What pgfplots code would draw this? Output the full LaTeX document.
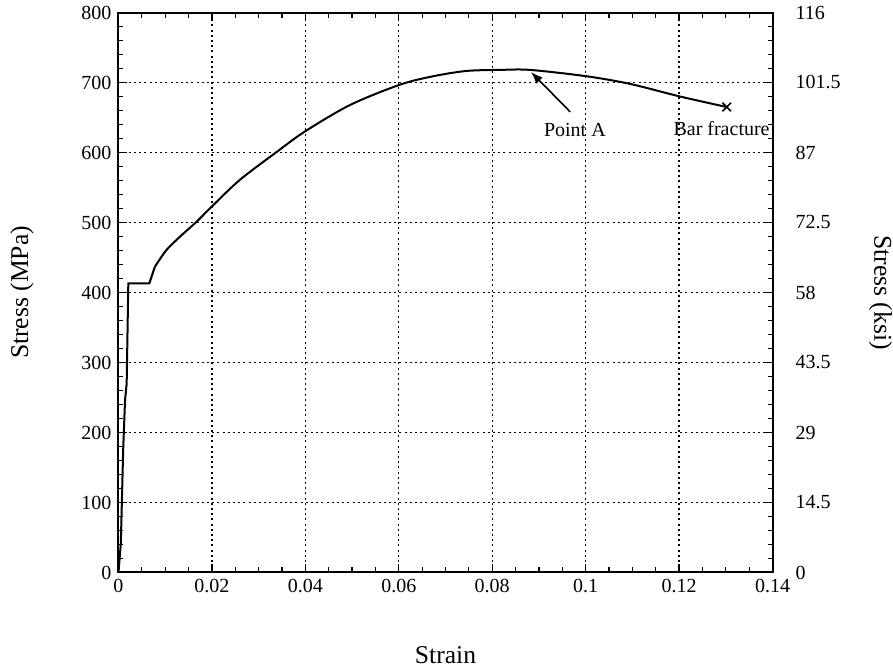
\documentclass[border=0pt]{standalone}
\usepackage{fontspec}
\setmainfont{Liberation Serif}
\usepackage{pgfplots}
\pgfplotsset{compat=1.18}
\usetikzlibrary{arrows.meta}
\begin{document}
\begin{tikzpicture}
\begin{axis}[name=ax,
  scale only axis, width=327pt, height=280pt,
  xmin=0, xmax=0.14, ymin=0, ymax=800,
  xtick={0,0.02,0.04,0.06,0.08,0.1,0.12,0.14},
  xticklabels={0,0.02,0.04,0.06,0.08,0.1,0.12,0.14},
  scaled x ticks=false,
  ytick={0,100,...,800},
  minor x tick num=3, minor y tick num=4,
  tick pos=both, tick align=inside,
  major tick length=4pt, minor tick length=2.5pt,
  tick style={black, line width=0.6pt},
  grid=major,
  major grid style={black, line width=0.65pt, dash pattern=on 1pt off 1.6pt},
  axis line style={line width=1pt},
  /pgf/number format/assume math mode=true,
  ticklabel style={font=\fontsize{10}{12}\selectfont},
  xlabel={Strain}, ylabel={Stress (MPa)},
  label style={font=\fontsize{12.8}{15}\selectfont},
  xlabel style={at={(axis description cs:0.5,-0.1473)}, anchor=center},
  ylabel style={at={(axis description cs:-0.1476,0.5)}, anchor=center},
]
\addplot[black, line width=1pt] coordinates {
(0,0) (0.0005,42) (0.001,175) (0.0014,246) (0.00175,270) (0.0021,413)
(0.0066,413) (0.0078,437)
};
\addplot[black, line width=1pt, smooth, tension=0.5] coordinates {
(0.0078,437) (0.0085,444) (0.0103,461) (0.0132,480)
(0.0167,501) (0.0200,523) (0.0260,561) (0.0339,601) (0.0399,630)
(0.0496,668) (0.0603,697) (0.0674,709) (0.0745,716.5) (0.0817,718)
(0.0881,718) (0.1001,709) (0.1095,698) (0.1202,680) (0.1302,665)
};
\addplot[only marks, mark=x, mark size=3pt, black, line width=0.8pt] coordinates {(0.1302,665)};
\draw[-{Latex[length=6pt,width=4.5pt]}, line width=0.8pt] (axis cs:0.0967,658) -- (axis cs:0.0883,715);
\node[font=\fontsize{10}{12}\selectfont] at (axis cs:0.0977,632) {Point A};
\node[font=\fontsize{10}{12}\selectfont] at (axis cs:0.1291,634) {Bar fracture};
\end{axis}
\begin{axis}[
  scale only axis, width=327pt, height=280pt,
  xmin=0, xmax=0.14, ymin=0, ymax=116,
  hide x axis,
  axis y line*=right,
  ytick={0,14.5,29,43.5,58,72.5,87,101.5,116},
  yticklabels={0,14.5,29,43.5,58,72.5,87,101.5,116},
  ytick style={draw=none},
  axis line style={line width=1pt},
  /pgf/number format/assume math mode=true,
  yticklabel style={font=\fontsize{10}{12}\selectfont, anchor=west, xshift=8pt},
  ylabel={Stress (ksi)},
  ylabel style={font=\fontsize{12.8}{15}\selectfont, at={(axis description cs:1.1651,0.5)}, anchor=center, rotate=180},
]
\end{axis}
\pgfresetboundingbox
\useasboundingbox ([shift={(-59.25pt,-47.25pt)}]ax.south west) rectangle ([shift={(60.25pt,6.25pt)}]ax.north east);
\end{tikzpicture}
\end{document}
